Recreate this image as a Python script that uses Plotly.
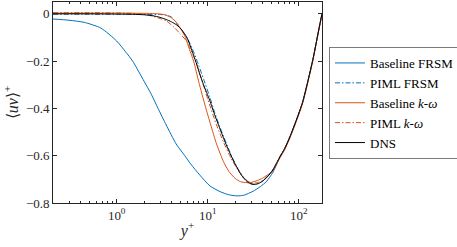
import plotly.graph_objects as go

# ---------------- data ----------------
series_names = ["Baseline FRSM", "PIML FRSM", "Baseline <i>k</i>-<i>ω</i>", "PIML <i>k</i>-<i>ω</i>", "DNS"]

base_frsm_y = [0.2, 0.3, 0.44, 0.67, 1.0, 1.25, 1.5, 2.0, 2.4, 2.85, 3.5, 4.5, 5.6, 6.5, 8.2,
               10.6, 13.7, 17, 21, 25, 31.6, 38, 44, 52, 62, 70, 80, 94, 110, 125, 143, 160, 170, 180]
base_frsm_uv = [-0.022, -0.027, -0.036, -0.06, -0.115, -0.16, -0.2, -0.285, -0.34, -0.4, -0.47, -0.55,
                -0.6, -0.635, -0.682, -0.728, -0.752, -0.765, -0.77, -0.767, -0.75, -0.73, -0.71,
                -0.67, -0.607, -0.57, -0.52, -0.45, -0.375, -0.29, -0.193, -0.098, -0.047, 0.0]

piml_frsm_y = [0.2, 0.5, 1, 2, 3, 3.5, 4, 4.5, 5, 6, 7, 8, 9, 10.5, 12, 13.5, 15, 17, 19, 21.5,
               24.6, 28, 32, 36, 40, 45, 52, 62, 70, 80, 94, 110, 125, 143, 160, 170, 180]
piml_frsm_uv = [-0.002, -0.002, -0.002, -0.002, -0.003, -0.005, -0.014, -0.036, -0.062, -0.105,
                -0.16, -0.22, -0.275, -0.35, -0.42, -0.475, -0.52, -0.572, -0.615, -0.655,
                -0.69, -0.712, -0.72, -0.717, -0.707, -0.69, -0.66, -0.605, -0.57, -0.52, -0.45,
                -0.375, -0.29, -0.193, -0.098, -0.047, 0.0]

base_kw_y = [0.2, 0.5, 1, 2, 2.6, 3, 3.3, 3.6, 4, 4.5, 5, 5.7, 6.3, 7.0, 8.0, 9.4, 10.8, 12.5, 14.9,
             17, 20, 23, 27, 30, 35, 40, 45, 52, 62, 70, 80, 94, 110, 125, 143, 160, 170, 180]
base_kw_uv = [0.003, 0.003, 0.003, 0.002, 0.001, -0.001, -0.003, -0.008, -0.017, -0.035, -0.06,
              -0.1, -0.15, -0.2, -0.29, -0.39, -0.47, -0.55, -0.625, -0.665, -0.696, -0.71,
              -0.714, -0.713, -0.705, -0.695, -0.682, -0.664, -0.61, -0.575, -0.525, -0.455,
              -0.38, -0.295, -0.197, -0.1, -0.048, 0.0]

piml_kw_y = [0.2, 0.5, 1, 1.8, 2.5, 3, 3.5, 4.2, 5, 5.9, 7, 8, 10, 12.5, 15, 18, 21, 25, 30, 35,
             40, 50, 62, 70, 80, 94, 110, 125, 143, 160, 170, 180]
piml_kw_uv = [0.005, 0.005, 0.004, 0.0, -0.01, -0.02, -0.03, -0.054, -0.085, -0.117, -0.18, -0.24,
              -0.36, -0.47, -0.545, -0.61, -0.655, -0.695, -0.715, -0.714, -0.705, -0.668, -0.607,
              -0.572, -0.522, -0.452, -0.377, -0.292, -0.195, -0.099, -0.047, 0.0]

dns_y = [0.2, 0.5, 1, 1.5, 2, 2.5, 3, 3.5, 4, 4.6, 5.2, 5.9, 6.5, 7, 7.6, 8.1, 9, 10.5, 12, 13.5,
         15, 17, 19, 21.5, 24.6, 28, 31.6, 36, 40, 45, 52, 62, 70, 80, 94, 110, 125, 143, 160, 170, 180]
dns_uv = [0.0, 0.0, -0.001, -0.002, -0.004, -0.008, -0.015, -0.024, -0.034, -0.048, -0.068, -0.1,
          -0.14, -0.175, -0.215, -0.25, -0.3, -0.365, -0.43, -0.482, -0.528, -0.578, -0.618, -0.658,
          -0.693, -0.714, -0.722, -0.718, -0.708, -0.69, -0.66, -0.605, -0.57, -0.52, -0.45, -0.375,
          -0.29, -0.193, -0.098, -0.047, 0.0]

x_tick_vals = [1, 10, 100]
x_tick_text = ["10<sup>0</sup>", "10<sup>1</sup>", "10<sup>2</sup>"]
x_minor_vals = [0.3, 0.4, 0.5, 0.6, 0.7, 0.8, 0.9, 2, 3, 4, 5, 6, 7, 8, 9,
                20, 30, 40, 50, 60, 70, 80, 90]
y_tick_vals = [0, -0.2, -0.4, -0.6, -0.8]
y_tick_text = ["0", "−0.2", "−0.4", "−0.6", "−0.8"]

# ---------------- styling ----------------
BLUE = "#0072BD"
ORANGE = "#D95319"
AX = "#262626"
FONT = "Liberation Serif, Times New Roman, serif"
DASHDOT = "5px,2px,1.5px,2px"

fig = go.Figure()
specs = [
    (base_frsm_y, base_frsm_uv, BLUE, "solid"),
    (piml_frsm_y, piml_frsm_uv, BLUE, DASHDOT),
    (base_kw_y, base_kw_uv, ORANGE, "solid"),
    (piml_kw_y, piml_kw_uv, ORANGE, DASHDOT),
    (dns_y, dns_uv, "#000000", "solid"),
]
for name, (xs, ys, col, dash) in zip(series_names, specs):
    fig.add_trace(go.Scatter(
        x=xs, y=ys, mode="lines", name=name,
        line=dict(color=col, width=1.0, dash=dash, shape="spline", smoothing=0.6),
    ))

fig.update_layout(
    width=457, height=247,
    margin=dict(l=53, r=135, t=2, b=44, pad=0, autoexpand=False),
    paper_bgcolor="white", plot_bgcolor="white",
    font=dict(family=FONT, size=13, color=AX),
    showlegend=True,
    legend=dict(
        x=1.026, y=0.4975, xanchor="left", yanchor="middle",
        bordercolor="#7a7a7a", borderwidth=1, bgcolor="white",
        font=dict(family=FONT, size=13, color="#000000"),
        traceorder="normal", tracegroupgap=0,
    ),
)
fig.update_xaxes(
    type="log", range=[-0.69897, 2.25527], automargin=False,
    tickvals=x_tick_vals, ticktext=x_tick_text,
    ticks="inside", ticklen=4, tickwidth=0.8, tickcolor=AX,
    minor=dict(tickvals=x_minor_vals, ticks="inside", ticklen=2, tickwidth=0.8, tickcolor=AX),
    showline=True, linecolor=AX, linewidth=0.8, mirror="ticks",
    showgrid=False, zeroline=False,
    tickfont=dict(family=FONT, size=13, color=AX),
    title=dict(text="<i>y</i><sup>+</sup>", font=dict(family=FONT, size=16, color=AX), standoff=3),
)
fig.update_yaxes(
    range=[-0.8, 0.05], automargin=False,
    tickvals=y_tick_vals, ticktext=y_tick_text,
    ticks="inside", ticklen=4, tickwidth=0.8, tickcolor=AX,
    showline=True, linecolor=AX, linewidth=0.8, mirror="ticks",
    showgrid=False, zeroline=False,
    tickfont=dict(family=FONT, size=13, color=AX),
    title=dict(text="⟨<i>uv</i>⟩<sup>+</sup>", font=dict(family=FONT, size=16, color=AX), standoff=3),
)

# the page's default 8px body margin would shift the whole figure; remove it
fig.write_html("out.html", config={"displayModeBar": False},
               post_script="document.body.style.margin='0px';")
